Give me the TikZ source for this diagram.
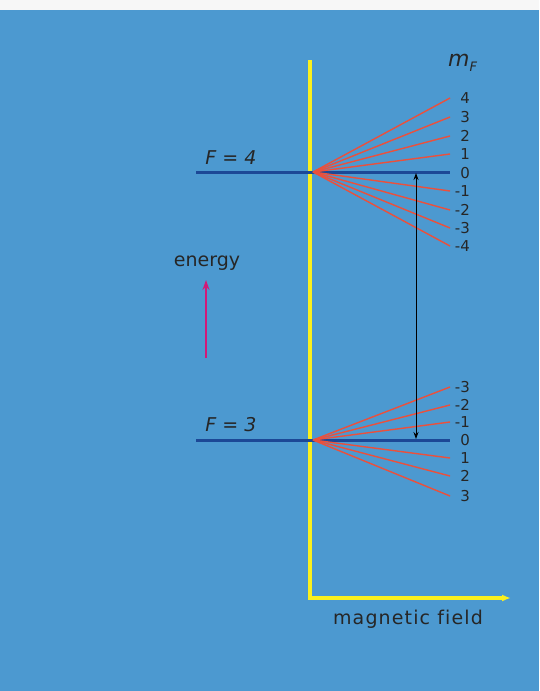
\documentclass[tikz,border=0pt]{standalone}
\usepackage{fontspec}
\setmainfont{DejaVu Sans}
\usetikzlibrary{arrows.meta}
\definecolor{bg}{RGB}{76,153,208}
\definecolor{lvl}{RGB}{28,72,150}
\definecolor{zee}{RGB}{235,80,60}
\definecolor{axis}{RGB}{250,240,30}
\definecolor{mag}{RGB}{210,25,120}
\tikzset{
  level/.style={draw=lvl,line width=3pt},
  zline/.style={draw=zee,line width=1.4pt},
  mlab/.style={anchor=east,font=\fontsize{15}{15}\selectfont,inner sep=0pt,text=black!85},
  flab/.style={font=\fontsize{19}{19}\selectfont\itshape,inner sep=0pt,text=black!85},
  txt/.style={font=\fontsize{19}{19}\selectfont,inner sep=0pt,text=black!85},
}
\begin{document}
\begin{tikzpicture}[x=1pt,y=-1pt]
\useasboundingbox (0,0) rectangle (539,691);
\fill[white!94!gray] (0,0) rectangle (539,10);
\fill[bg] (0,10) rectangle (539,691);
% axes
\coordinate (ytop) at (310,60);
\coordinate (orig) at (310,598);
\coordinate (xend) at (511,598);
\draw[axis,line width=3.5pt,-{Latex[length=9pt,width=7pt]}] (ytop) -- (orig) -- (xend);
\node[txt,font=\fontsize{19}{19}\selectfont\addfontfeature{LetterSpace=6,Ligatures=NoCommon}] (mf) at (408,619) {magnetic field};
% levels
\coordinate (l4a) at (196,172); \coordinate (l4b) at (450,172);
\coordinate (l3a) at (196,440); \coordinate (l3b) at (450,440);
\draw[level] (l4a) -- (l4b);
\draw[level] (l3a) -- (l3b);
\node[flab] (F4) at (231,158) {F = 4};
\node[flab] (F3) at (231,425) {F = 3};
% zeeman fans
\coordinate (c4) at (313,172);
\coordinate (c3) at (313,440);
\foreach \m/\y in {4/98,3/117,2/136,1/154,-1/191,-2/210,-3/228,-4/246}{
  \coordinate (e4\m) at (450,\y);
  \draw[zline] (c4) -- (e4\m);
  \node[mlab] (m4\m) at (470,\y) {\m};
}
\node[mlab] (m40) at (470,173) {0};
\foreach \m/\y in {-3/387,-2/405,-1/422,1/458,2/476,3/496}{
  \coordinate (e3\m) at (450,\y);
  \draw[zline] (c3) -- (e3\m);
  \node[mlab] (m3\m) at (470,\y) {\m};
}
\node[mlab] (m30) at (470,440) {0};
\node[inner sep=0pt,text=black!85,anchor=base west] (mF) at (448,66) {\fontsize{22}{22}\selectfont\itshape m\raisebox{-5pt}{\fontsize{13}{13}\selectfont F}};
% transition arrow
\coordinate (t4) at (416,173);
\coordinate (t3) at (416,439);
\draw[black,line width=1pt,{Stealth[length=7pt,width=5pt]}-{Stealth[length=7pt,width=5pt]}] (t3) -- (t4);
% energy
\node[txt] (en) at (207,263) {energy};
\coordinate (ea) at (206,358);
\coordinate (eb) at (206,280);
\draw[mag,line width=2.6pt,-{Stealth[length=10pt,width=7pt]}] (ea) -- (eb);
\end{tikzpicture}
\end{document}
